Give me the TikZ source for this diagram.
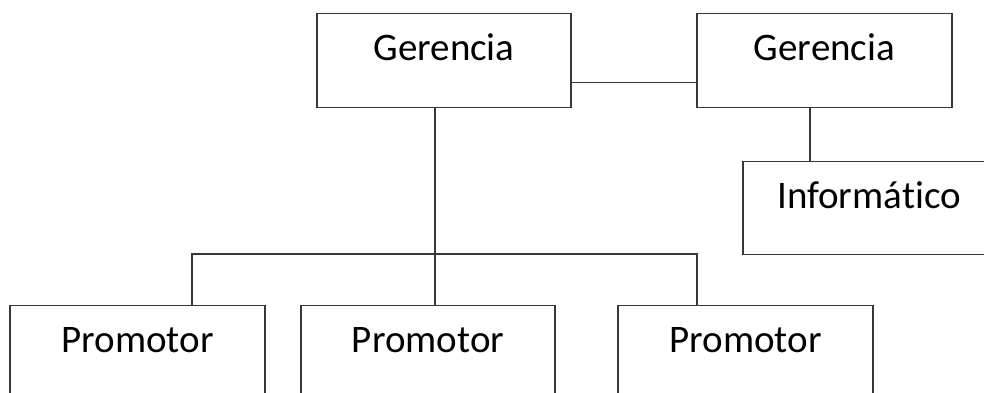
\documentclass[tikz,border=0pt]{standalone}
\usepackage{fontspec}
\setmainfont[Ligatures=NoCommon]{Carlito}
\begin{document}
\begin{tikzpicture}[x=1pt,y=-1pt,
  line/.style={draw=black!78,line width=1.2pt},
  orgbox/.style={line,inner sep=0pt,font=\fontsize{39}{39}\selectfont,text height=47pt,anchor=north},
]
\useasboundingbox (0,0) rectangle (984,392);
\clip (0,0) rectangle (984,392);
\node[orgbox,minimum width=254pt,text depth=47pt] (g1) at (444,13) {Gerencia};
\node[orgbox,minimum width=255pt,text depth=47pt] (g2) at (824.5,13) {Gerencia};
\node[orgbox,minimum width=252pt,text depth=46pt] (inf) at (869,161) {Informático};
\node[orgbox,minimum width=255pt,text depth=80pt] (p1) at (137.5,305) {Promotor};
\node[orgbox,minimum width=254pt,text depth=80pt] (p2) at (428,305) {Promotor};
\node[orgbox,minimum width=255pt,text depth=80pt] (p3) at (745.5,305) {Promotor};
\coordinate (bus) at (435,254);
\draw[line] ([yshift=-21.5pt]g1.east) -- ([yshift=-21.5pt]g2.west);
\draw[line] ([xshift=-9pt]g1.south) -- ([xshift=7pt]p2.north);
\draw[line] ([xshift=54.5pt]p1.north) |- (bus) -| ([xshift=-48.5pt]p3.north);
\draw[line] ([xshift=-14.5pt]g2.south) -- ([xshift=-59pt]inf.north);
\end{tikzpicture}
\end{document}
